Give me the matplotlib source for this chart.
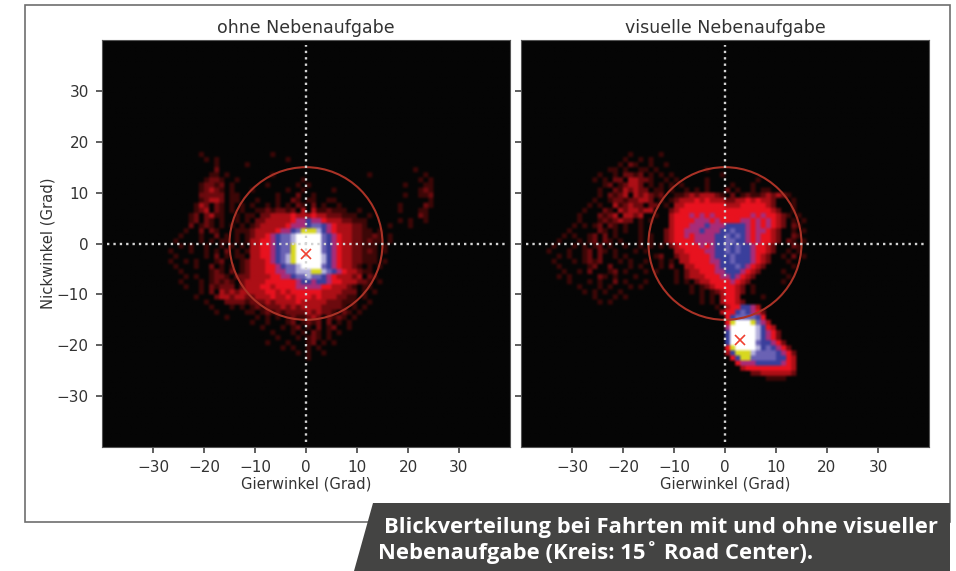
import numpy as np
import matplotlib
matplotlib.use("Agg")
import matplotlib.pyplot as plt
from matplotlib.colors import ListedColormap
from matplotlib.patches import Circle, Polygon, Rectangle

plt.rcParams["font.family"] = ["DejaVu Sans"]

# gaze density levels, 1 degree cells, top row first
# . = 0, a = 10
LEFT_X0, LEFT_Y0 = -27, 17
left_rows = [
    "......1.............1.................................",
    ".......1.1.............1..............................",
    ".........1.....1......................................",
    ".........2......................................1.....",
    "........11.1........1..................1..........1...",
    ".......1221..1............1......................1.1..",
    "......12212.1......1.....1.1..................1...11..",
    "......12321.1...1......1..1.....1................121..",
    "......22222.11.......1...2..1.................1..112..",
    "......12332.11...1...1..21.11..11..................1..",
    ".....132.21.1.1.1..1.1.1.21.2.1..1...........1....21.",
    ".....123.21.1.1..11212212.3.3112111..1.......1...11..",
    "....12.2311..1.11.212322.333.33322211..1.........21..",
    "....12.21.1..1.1.12233323344.4333322.11......1.1..1..",
    "....2.121.1.1.1.1233333345565543333211.....1...1.....",
    "...1..2.21...111233333445678876533333211.1...........",
    "..1...1..2.1.1.12334445679aaaa986543322121.1",
    ".1....1.1.11.1.1334456789aaaaa986544322211.1",
    "..1.1..1..1.1.1.333456789aaaaa98654432211.1",
    "1...1..1.1.2.1.1334456789aaaaa98654332.21.1",
    ".1.....1.2.1.11.334456789aaaaa98654332111",
    "1..1.1...12...12334456789aaaaa98654432.11.1",
    ".1...1..2.1.1.123344456789aaaa98654332.1.1",
    "..1.....121.2.123344455678889987654332.1",
    "...1.1..1221.2223334445667778776543323.21",
    "..1...1.12121.22333444455666666544333.21.1",
    "...1..1.21222.23333434444555554443332.11",
    "......1.2.323233333443434444444333322.1.1",
    ".....1...2332332233343343444434333221.1",
    ".......1...22221222323333433333322211..1",
    "........1...1.1.1212223232333322221.1.1",
    ".........1.....11.121212222323221.21.1",
    "...........1.....1.1.1.1211232.2121.1",
    "................1..1...12.1212.2.1.1",
    "..................1...1.12.1.2.12..1",
    "....................1...1.1.21.1.1",
    ".....................1...1.121.1",
    "...................1...1...12.1.1",
    "......................1.1..1.1",
    ".........................1.1..1",
    "...........................1",
]

# hot centre of the left panel: (row angle, first column angle, levels)
left_core = [
    (5, -9, "22333343334332221"),
    (4, -10, "223333345565543332 21"),
    (3, -10, "2333334555677654333221"),
    (2, -11, "23333455679998654333221"),
    (1, -11, "233456778 aaaaa76543322 1"),
    (0, -11, "33445677 8aaaaa76543322 1"),
    (-1, -11, "3344567 79aaaaa76543322 1"),
    (-2, -11, "3344567 79aaaaa76543322 1"),
    (-3, -11, "3344567 89aaaaa86543322 1"),
    (-4, -11, "3334567 89aaaaa86543322 1"),
    (-5, -11, "3334456778aaaa76543321"),
    (-6, -11, "33344 5577888 99 8765433 21"),
    (-7, -11, "33334455677877654333 2"),
    (-8, -13, "23333444444 5665 66 5 44 333 2"),
    (-9, -13, "2333443444 455555 4 43 332 1"),
    (-10, -11, "333443434 44444 3 33 322"),
    (-11, -11, "233343343 44434 3 33 221"),
    (-12, -11, "222323333 43333 3 22 211"),
]

RIGHT_X0, RIGHT_Y0 = -36, 17
right_rows = [
    ".................1.....1.............................",
    "................1..1.1...............................",
    "...............1.21..1..1............................",
    ".............11.1..11.1.........1....................",
    "...........1..1.2212.1.1.1.........1.................",
    "..........1.1.22.33221..1.1.....1.........1..........",
    "............12.12332.1.1.1.1....1....1...1...........",
    "...........1..2132322.11.1..1.1.1...2.1..1.11........",
    "...........1.2123.323212..1.1..1.2.1.2.12121.1.......",
    "..........1..122122332.1.1.......................1...",
    ".........1.1..312322.22.1........................1...",
    "........1...21.3233233...........................1...",
    ".......1...2123.3323..1.........................1.1..",
    ".......1...1212322.1.1...........................1.1.",
    "......1.1.12.21.1..1.............................21..",
    ".....1.....21.1.1..1.............................1.1.",
    "....1.1..12.2.1....1.1...........................21..",
    "...1...1.12.21.1...1.1..........................21.1.",
    "..1...1.1.12.1..1..1.1.1.........................21..",
    ".1...1..12.21.1...1.1...........................1.1.",
    "...1.1..12.2..1.1.....12.......................1.2.1.",
    "..1...1.1212...1.1..1..1.1......................1....",
    "...1.....12..2...1.1...1.2.......................1...",
    "....1..1.2...12.1...1.1...1.2..................1.....",
    "...1.1.....21.1...1.......1.2...................1....",
    ".....1...1.1..2.1...1.....1.1.2.1..............1.....",
    ".......1...1.1...1.1.........1.1.2.1.....1...........",
    "........1.1.1..1.............1.1.1.2.1...1...........",
    "..........1...1.1..............1.1.2.1.....1.........",
    "...........1.1.................1.1.2.................",
    "..................................1.2.1..............",
    "...................................1.2...............",
    "....................................1................",
]

# hot part of the right panel: (row angle, first column angle, levels)
right_core = [
    (9, -9, "1232333 21......1 2323 21"),
    (8, -10, "23334343332 2 33434332"),
    (7, -10, "33444444443 3 34444432"),
    (6, -11, "234444444444 4 444444432"),
    (5, -11, "344454545444 4 4445454432"),
    (4, -11, "344445554544 4 4554545432"),
    (3, -11, "344455565556 6 66 54545432"),
    (2, -12, "2 34455565556 6766 5455432"),
    (1, -12, "2 344545555 667676 5454432"),
    (0, -12, "2 344445555 667766 5454432"),
    (-1, -11, "234444545 6676766 54432"),
    (-2, -10, "3344445 56676766 54432"),
    (-3, -10, "2334444 56667666 5432"),
    (-4, -9, "334444 55667666 5432"),
    (-5, -8, "334444 566676 5432"),
    (-6, -8, "233444 556665 432"),
    (-7, -7, "33344 455654 32"),
    (-8, -6, "2334 444543 2"),
    (-9, -4, "2344443 2"),
    (-10, -2, "23443 2"),
    (-11, -1, "3443"),
    (-12, -1, "3443 2"),
    (-13, 0, "3446653"),
    (-14, -1, "344676542"),
    (-15, 0, "46777764"),
    (-16, 0, "49aaa97 53"),
    (-17, 0, "5aaaaa8 643"),
    (-18, 0, "6aaaaa8 6542"),
    (-19, 0, "6aaaaa8 6542"),
    (-20, 0, "6aaaaa7 66542"),
    (-21, 0, "49aaaa8 676542"),
    (-22, 0, "36999 87777 6542"),
    (-23, 1, "46997 77776 643"),
    (-24, 2, "455566666543"),
    (-25, 3, "34444444443"),
    (-26, 5, "223333332"),
    (-27, 8, "1111"),
]

panel_titles = ["ohne Nebenaufgabe", "visuelle Nebenaufgabe"]
peak_x = [0, 3]
peak_y = [-2, -19]
tick_values = [-30, -20, -10, 0, 10, 20, 30]
circle_radius = 15
caption_lines = ["Blickverteilung bei Fahrten mit und ohne visueller",
                 "Nebenaufgabe (Kreis: 15˚ Road Center)."]

level_colors = ["#050505", "#3c0707", "#6c0a0e", "#ac0f16", "#e8121f", "#a82c78",
                "#3a3f9c", "#6a62b4", "#b4b0dc", "#d8d820", "#ffffff"]
W, H = 956, 571


def to_grid(rows, core, x0, y0):
    """Level strings -> 80x80 array covering -40..40 in both angles."""
    grid = np.zeros((80, 80))
    for i, row in enumerate(rows):
        for j, ch in enumerate(row):
            if ch != ".":
                grid[y0 - i + 40, x0 + j + 40] = int(ch, 16)
    for y, x, levels in core:
        levels = levels.replace(" ", "")
        for j, ch in enumerate(levels):
            if ch != ".":
                grid[y + 40, x + j + 40] = int(ch, 16)
    return grid


def fig_box(x0, y0, x1, y1):
    return [x0 / W, 1 - y1 / H, (x1 - x0) / W, (y1 - y0) / H]


fig = plt.figure(figsize=(W / 100, H / 100), dpi=100, facecolor="white")
fig.add_artist(Rectangle((25 / W, 1 - 522 / H), 925 / W, 517 / H, transform=fig.transFigure,
                         fill=False, ec="#6e6e6e", lw=1.2))

cmap = ListedColormap(level_colors)
grids = [to_grid(left_rows, left_core, LEFT_X0, LEFT_Y0), to_grid(right_rows, right_core, RIGHT_X0, RIGHT_Y0)]
boxes = [(102, 40, 510, 447), (521, 40, 929, 447)]

for k, ax_box in enumerate(boxes):
    ax = fig.add_axes(fig_box(*ax_box))
    ax.imshow(grids[k], origin="lower", extent=[-40, 40, -40, 40], cmap=cmap, vmin=-0.5, vmax=10.5,
              interpolation="hanning", interpolation_stage="rgba", aspect="auto")
    ax.plot([-39, 39], [0, 0], color="#d4d4d4", lw=1.7, ls=(0, (1, 1.7)))
    ax.plot([0, 0], [-39, 39], color="#d4d4d4", lw=1.7, ls=(0, (1, 1.7)))
    ax.add_patch(Circle((0, 0), circle_radius, fill=False, ec="#a93226", lw=1.5))
    ax.plot(peak_x[k], peak_y[k], "x", color="#f04030", ms=7, mew=1.2)
    ax.set_xlim(-40, 40)
    ax.set_ylim(-40, 40)
    ax.set_xticks(tick_values)
    ax.set_yticks(tick_values)
    ax.tick_params(colors="#333333", labelsize=11, length=4.5, width=1.1, pad=5)
    if k == 1:
        ax.set_yticklabels([])
    else:
        ax.set_ylabel("Nickwinkel (Grad)", fontsize=10.6, color="#333333", labelpad=1)
    ax.set_xlabel("Gierwinkel (Grad)", fontsize=10.6, color="#333333", labelpad=1)
    ax.set_title(panel_titles[k], fontsize=12.5, color="#333333", pad=5)
    for s in ax.spines.values():
        s.set_color("#555555")

# caption banner
pts = [(373 / W, 1 - 503 / H), (950 / W, 1 - 503 / H), (950 / W, 0), (354 / W, 0)]
fig.add_artist(Polygon(pts, closed=True, transform=fig.transFigure, fc="#444443", ec="none"))
fig.text(384 / W, 1 - 527 / H, caption_lines[0], color="white", fontsize=15.8, fontweight="bold",
         family="Open Sans", va="center", ha="left")
fig.text(378 / W, 1 - 553 / H, caption_lines[1], color="white", fontsize=15.8, fontweight="bold",
         family="Open Sans", va="center", ha="left")

fig.savefig("out.png", dpi=100)
